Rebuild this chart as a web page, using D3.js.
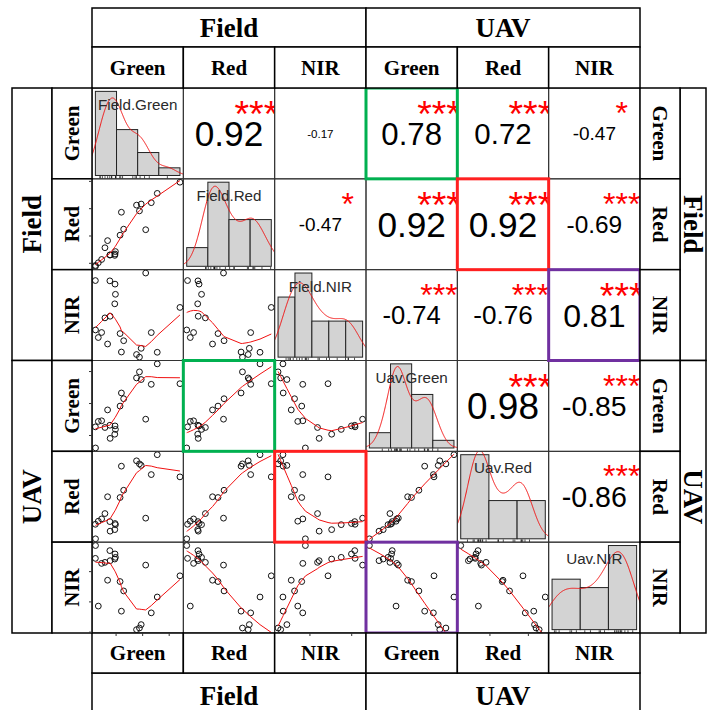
<!DOCTYPE html>
<html>
<head>
<meta charset="utf-8">
<script src="https://d3js.org/d3.v7.min.js"></script>
<style>
  body { margin: 0; background: #fff; }
  svg { display: block; }
</style>
</head>
<body>
<div id="chart"></div>
<script>
// variable names (as printed on the diagonal) and the header labels
var varNames = ["Field.Green", "Field.Red", "Field.NIR", "Uav.Green", "Uav.Red", "Uav.NIR"];
var bandLabels = ["Green", "Red", "NIR"];
var groupLabels = ["Field", "UAV"];

// one value per plot, same order in every array
var fieldGreen = [8.81, 7.10, 6.65, 6.23, 5.89, 5.76, 5.54, 4.57, 4.40, 4.30, 3.95, 3.92, 3.90, 3.53, 3.55, 3.36, 3.16, 2.91, 2.66, 2.44, 2.45];
var fieldRed   = [5.97, 5.56, 5.22, 4.23, 5.17, 4.92, 5.13, 4.25, 4.87, 4.03, 3.43, 3.34, 3.29, 3.30, 3.31, 3.83, 3.57, 3.14, 3.02, 2.92, 2.89];
var fieldNIR   = [34.33, 23.54, 28.28, 42.61, 24.49, 22.37, 23.00, 26.32, 23.60, 28.04, 37.49, 39.94, 35.20, 40.73, 32.21, 25.53, 31.82, 28.30, 27.09, 40.80, 28.91];
var uavGreen   = [6.62, 7.24, 6.60, 5.51, 6.75, 6.99, 6.80, 6.15, 6.33, 5.92, 5.19, 5.30, 5.04, 5.32, 4.91, 5.80, 5.25, 5.46, 5.44, 5.27, 4.61];
var uavRed     = [4.86, 5.44, 4.92, 3.78, 5.16, 5.20, 5.28, 4.51, 5.14, 4.32, 3.61, 3.64, 3.48, 3.69, 3.44, 4.34, 3.90, 3.76, 3.70, 3.62, 3.24];
var uavNIR     = [39.31, 35.81, 33.19, 41.08, 31.25, 30.69, 30.42, 36.81, 33.47, 38.36, 42.36, 42.92, 42.08, 43.47, 41.81, 38.58, 41.53, 41.36, 34.31, 42.19, 44.31];

// histogram breaks for the diagonal
var fieldGreenBreaks = [2, 4, 6, 8, 10];
var fieldRedBreaks = [2, 3, 4, 5, 6];
var fieldNIRBreaks = [20, 25, 30, 35, 40, 45];
var uavGreenBreaks = [4, 5, 6, 7, 8];
var uavRedBreaks = [3, 4, 5, 6];
var uavNIRBreaks = [30, 35, 40, 45];

// upper triangle, row by row: printed r and significance
var corrValues = [0.92, -0.17, 0.78, 0.72, -0.47,
                  -0.47, 0.92, 0.92, -0.69,
                  -0.74, -0.76, 0.81,
                  0.98, -0.85,
                  -0.86];
var corrStars = ["***", "", "***", "***", "*",
                 "*", "***", "***", "***",
                 "***", "***", "***",
                 "***", "***",
                 "***"];

// highlighted panels [row, col]
var greenCells = [[0, 3], [3, 1]];
var redCells = [[1, 4], [4, 2]];
var purpleCells = [[2, 5], [5, 3]];

var W = 707, H = 710;
var gx = 92, gy = 88, cw = 548 / 6, ch = 545 / 6;
var cols = [fieldGreen, fieldRed, fieldNIR, uavGreen, uavRed, uavNIR];
var breaks = [fieldGreenBreaks, fieldRedBreaks, fieldNIRBreaks, uavGreenBreaks, uavRedBreaks, uavNIRBreaks];
var nv = cols.length;

var svg = d3.select('#chart').append('svg').attr('width', W).attr('height', H);
svg.append('rect').attr('width', W).attr('height', H).attr('fill', '#fff');

function padDomain(ext) {
  var d = ext[1] - ext[0];
  return [ext[0] - 0.04 * d, ext[1] + 0.04 * d];
}

var xs = cols.map(function (v, j) {
  return d3.scaleLinear().domain(padDomain(d3.extent(v))).range([gx + j * cw, gx + (j + 1) * cw]);
});
var ys = cols.map(function (v, i) {
  return d3.scaleLinear().domain(padDomain(d3.extent(v))).range([gy + (i + 1) * ch, gy + i * ch]);
});

// clip every panel
var defs = svg.append('defs');
d3.range(nv).forEach(function (i) {
  d3.range(nv).forEach(function (j) {
    defs.append('clipPath').attr('id', 'clip-' + i + '-' + j)
      .append('rect').attr('x', gx + j * cw).attr('y', gy + i * ch).attr('width', cw).attr('height', ch);
  });
});

// lowess as in R (f = 2/3, iter = 3)
function lowess(x, y, f, iter) {
  var n = x.length, ns = Math.max(2, Math.min(n, Math.floor(f * n + 1e-7)));
  var range = x[n - 1] - x[0];
  var rw = x.map(function () { return 1; }), fit = [], w = [];
  for (var it = 0; it <= iter; it++) {
    var nleft = 0, nright = ns - 1;
    for (var i = 0; i < n; i++) {
      var x0 = x[i], j;
      while (nright < n - 1 && x0 - x[nleft] > x[nright + 1] - x0) { nleft++; nright++; }
      var h = Math.max(x0 - x[nleft], x[nright] - x0), h9 = 0.999 * h, h1 = 0.001 * h;
      var sw = 0;
      for (j = 0; j < n; j++) {
        w[j] = 0;
        var r = Math.abs(x[j] - x0);
        if (r <= h9) {
          var wj = r > h1 ? Math.pow(1 - Math.pow(r / h, 3), 3) : 1;
          w[j] = wj * rw[j];
          sw += w[j];
        }
      }
      if (sw <= 0) { fit[i] = y[i]; continue; }
      var a = 0;
      for (j = 0; j < n; j++) { w[j] /= sw; a += w[j] * x[j]; }
      var b = x0 - a, c = 0;
      for (j = 0; j < n; j++) c += w[j] * (x[j] - a) * (x[j] - a);
      if (Math.sqrt(c) > 0.001 * range) {
        b /= c;
        for (j = 0; j < n; j++) w[j] *= (b * (x[j] - a) + 1);
      }
      var s = 0;
      for (j = 0; j < n; j++) s += w[j] * y[j];
      fit[i] = s;
    }
    if (it === iter) break;
    var res = y.map(function (v, k) { return Math.abs(v - fit[k]); });
    var cmad = 6 * d3.median(res);
    if (cmad < 1e-7 * d3.mean(res)) break;
    for (j = 0; j < n; j++) {
      var rr = res[j];
      rw[j] = rr <= 0.001 * cmad ? 1 : rr <= 0.999 * cmad ? Math.pow(1 - Math.pow(rr / cmad, 2), 2) : 0;
    }
  }
  return fit;
}

// gaussian kernel density, bandwidth nrd0
function density(v) {
  var sorted = v.slice().sort(d3.ascending);
  var iqr = d3.quantile(sorted, 0.75) - d3.quantile(sorted, 0.25);
  var lo = Math.min(d3.deviation(v), iqr / 1.34);
  var bw = 0.9 * lo * Math.pow(v.length, -0.2);
  var a = sorted[0] - 3 * bw, b = sorted[sorted.length - 1] + 3 * bw;
  return d3.range(512).map(function (k) {
    var x = a + (b - a) * k / 511;
    var s = d3.sum(v, function (d) { var z = (x - d) / bw; return Math.exp(-0.5 * z * z); });
    return [x, s / (v.length * bw * Math.sqrt(2 * Math.PI))];
  });
}

function binCounts(v, br) {
  var counts = br.slice(1).map(function () { return 0; });
  v.forEach(function (d) {
    for (var k = 0; k < br.length - 1; k++) {
      if ((d > br[k] || (k === 0 && d >= br[k])) && d <= br[k + 1]) { counts[k]++; break; }
    }
  });
  return counts;
}

// ---- lower panels: scatter + smooth
var line = d3.line();
d3.range(nv).forEach(function (i) {
  d3.range(i).forEach(function (j) {
    var g = svg.append('g').attr('clip-path', 'url(#clip-' + i + '-' + j + ')');
    var pts = cols[j].map(function (d, k) { return [d, cols[i][k]]; });
    g.selectAll('circle').data(pts).enter().append('circle')
      .attr('cx', function (d) { return xs[j](d[0]); })
      .attr('cy', function (d) { return ys[i](d[1]); })
      .attr('r', 2.9)
      .attr('fill', 'none').attr('stroke', '#111').attr('stroke-width', 1);
    var srt = pts.slice().sort(function (a, b) { return a[0] - b[0]; });
    var sx = srt.map(function (d) { return d[0]; });
    var fit = lowess(sx, srt.map(function (d) { return d[1]; }), 2 / 3, 3);
    g.append('path')
      .attr('d', line(sx.map(function (d, k) { return [xs[j](d), ys[i](fit[k])]; })))
      .attr('fill', 'none').attr('stroke', '#f01010').attr('stroke-width', 1);
  });
});

// ---- diagonal: histogram, density, rug, name
var labelFont = "'Liberation Sans', Arial, sans-serif";
var ctx = document.createElement('canvas').getContext('2d');
function textWidth(txt, font) { ctx.font = font; return ctx.measureText(txt).width; }
var labelSize = 0.87 * cw / d3.max(varNames, function (t) { return textWidth(t, '100px ' + labelFont); }) * 100;

d3.range(nv).forEach(function (i) {
  var v = cols[i], br = breaks[i];
  var counts = binCounts(v, br);
  var dens = counts.map(function (c, k) { return c / (v.length * (br[k + 1] - br[k])); });
  var M = d3.max(dens);
  var hx = d3.scaleLinear().domain(padDomain([br[0], br[br.length - 1]])).range([gx + i * cw, gx + (i + 1) * cw]);
  var hy = d3.scaleLinear().domain([-0.04 * M, 1.04 * M]).range([gy + (i + 1) * ch, gy + i * ch]);
  var g = svg.append('g').attr('clip-path', 'url(#clip-' + i + '-' + i + ')');
  g.selectAll('rect.bar').data(dens).enter().append('rect').attr('class', 'bar')
    .attr('x', function (d, k) { return hx(br[k]); })
    .attr('width', function (d, k) { return hx(br[k + 1]) - hx(br[k]); })
    .attr('y', function (d) { return hy(d); })
    .attr('height', function (d) { return hy(0) - hy(d); })
    .attr('fill', '#d3d3d3').attr('stroke', '#222').attr('stroke-width', 1);
  g.append('path')
    .attr('d', line(density(v).map(function (p) { return [hx(p[0]), hy(p[1])]; })))
    .attr('fill', 'none').attr('stroke', '#f01010').attr('stroke-width', 1);
  var bottom = gy + (i + 1) * ch;
  g.selectAll('line.rug').data(v).enter().append('line').attr('class', 'rug')
    .attr('x1', function (d) { return hx(d); }).attr('x2', function (d) { return hx(d); })
    .attr('y1', bottom).attr('y2', bottom - 0.03 * ch)
    .attr('stroke', '#000').attr('stroke-width', 0.7);
  g.append('text')
    .attr('x', gx + (i + 0.5) * cw).attr('y', gy + i * ch + 22)
    .attr('text-anchor', 'middle')
    .style('font-family', labelFont).style('font-size', labelSize + 'px').style('fill', '#2a2a2a')
    .text(varNames[i]);
});

// ---- upper panels: r and stars
var idx = 0;
d3.range(nv).forEach(function (i) {
  d3.range(i + 1, nv).forEach(function (j) {
    var r = corrValues[idx], stars = corrStars[idx];
    idx++;
    var txt = d3.format('.2f')(r).replace('\u2212', '-');
    var full = 0.8 * cw / textWidth(txt, '100px ' + labelFont) * 100;
    var fs = full * (Math.abs(r) + 0.3) / 1.3;
    var g = svg.append('g').attr('clip-path', 'url(#clip-' + i + '-' + j + ')');
    g.append('text')
      .attr('x', gx + (j + 0.5) * cw).attr('y', gy + (i + 0.5) * ch + 0.358 * fs)
      .attr('text-anchor', 'middle')
      .style('font-family', labelFont).style('font-size', fs + 'px').style('fill', '#000')
      .text(txt);
    if (stars) {
      g.append('text')
        .attr('x', gx + (j + 0.8) * cw).attr('y', gy + (i + 0.2) * ch + 0.56 * full)
        .attr('text-anchor', 'middle')
        .style('font-family', labelFont).style('font-size', full + 'px').style('fill', '#ff0000')
        .text(stars);
    }
  });
});

// ---- panel borders
d3.range(nv).forEach(function (i) {
  svg.append('g').selectAll('rect').data(d3.range(nv)).enter().append('rect')
    .attr('x', function (j) { return gx + j * cw; }).attr('y', gy + i * ch)
    .attr('width', cw).attr('height', ch)
    .attr('fill', 'none').attr('stroke', '#333').attr('stroke-width', 1);
});

// ---- highlighted panels
[[greenCells, '#00b050'], [redCells, '#ff2020'], [purpleCells, '#7030a0']].forEach(function (h) {
  svg.append('g').selectAll('rect').data(h[0]).enter().append('rect')
    .attr('x', function (d) { return gx + d[1] * cw; })
    .attr('y', function (d) { return gy + d[0] * ch; })
    .attr('width', cw).attr('height', ch)
    .attr('fill', 'none').attr('stroke', h[1]).attr('stroke-width', 3);
});

// ---- header boxes
var serif = "'Liberation Serif', 'Times New Roman', serif";
function labelBox(x, y, w, h, txt, size, rot) {
  svg.append('rect').attr('x', x).attr('y', y).attr('width', w).attr('height', h)
    .attr('fill', '#fff').attr('stroke', '#000').attr('stroke-width', 1.5);
  svg.append('text')
    .attr('transform', 'translate(' + (x + w / 2) + ',' + (y + h / 2) + ') rotate(' + rot + ')')
    .attr('text-anchor', 'middle').attr('dy', '0.34em')
    .style('font-family', serif).style('font-weight', 'bold').style('font-size', size + 'px')
    .text(txt);
}
var groupSize = 27, bandSize = 21;
groupLabels.forEach(function (t, k) {
  var span = 3 * cw, spanY = 3 * ch;
  labelBox(gx + k * span, 8, span, 39, t, groupSize, 0);
  labelBox(gx + k * span, 673, span, 45, t, groupSize, 0);
  labelBox(12, gy + k * spanY, 40, spanY, t, groupSize, -90);
  labelBox(680, gy + k * spanY, 26, spanY, t, groupSize, 90);
});
d3.range(nv).forEach(function (k) {
  var t = bandLabels[k % 3];
  labelBox(gx + k * cw, 47, cw, 41, t, bandSize, 0);
  labelBox(gx + k * cw, gy + 6 * ch, cw, 40, t, bandSize, 0);
  labelBox(52, gy + k * ch, 40, ch, t, bandSize, -90);
  labelBox(gx + 6 * cw, gy + k * ch, 40, ch, t, bandSize, 90);
});

// ---- axis ticks that show at the grid edge (left: rows 2,4,6; bottom: cols 1,3,5)
[1, 3, 5].forEach(function (i) {
  svg.append('g').selectAll('line').data(ys[i].ticks(3)).enter().append('line')
    .attr('x1', gx).attr('x2', gx - 3)
    .attr('y1', function (d) { return ys[i](d); }).attr('y2', function (d) { return ys[i](d); })
    .attr('stroke', '#333').attr('stroke-width', 1);
});
[0, 2, 4].forEach(function (j) {
  svg.append('g').selectAll('line').data(xs[j].ticks(3)).enter().append('line')
    .attr('y1', gy + 6 * ch).attr('y2', gy + 6 * ch + 3)
    .attr('x1', function (d) { return xs[j](d); }).attr('x2', function (d) { return xs[j](d); })
    .attr('stroke', '#333').attr('stroke-width', 1);
});
</script>
</body>
</html>
